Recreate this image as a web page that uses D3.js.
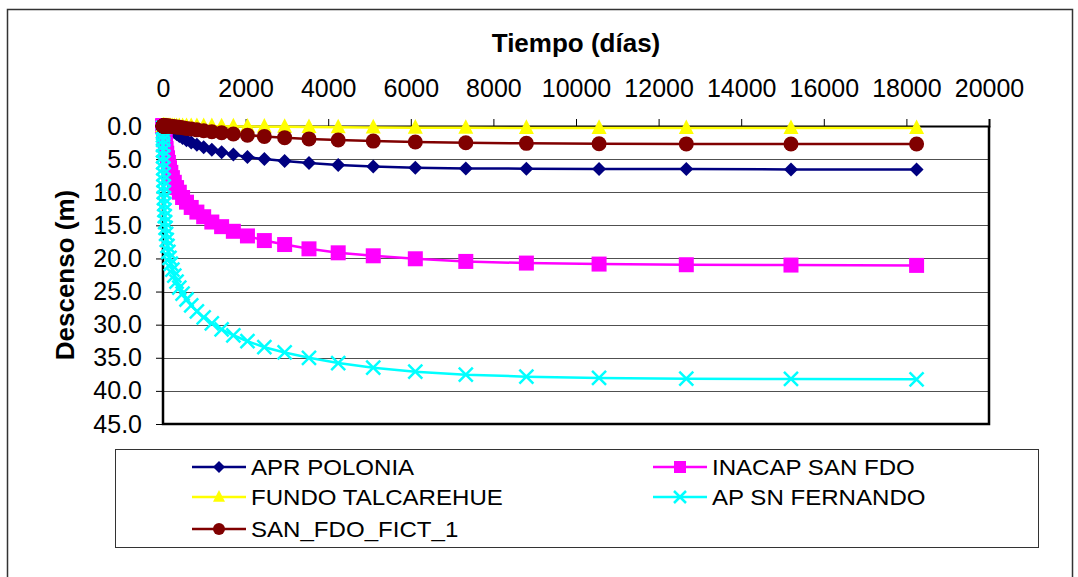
<!DOCTYPE html>
<html>
<head>
<meta charset="utf-8">
<script src="https://cdn.jsdelivr.net/npm/d3@7/dist/d3.min.js"></script>
<style>
  html, body { margin: 0; padding: 0; background: #fff; }
  svg text { font-family: "Liberation Sans", Arial, sans-serif; fill: #000; }
</style>
</head>
<body>
<svg id="chart" width="1078" height="577"></svg>
<script>
// ---- data ----
const days = [0.4, 0.9, 1.5, 2.2, 3.0, 4.0, 5.2, 6.6, 8.3, 10.4,
  12.9, 15.9, 19.5, 23.7, 28.9, 35.1, 42.5, 51.4, 62.1, 74.9,
  90.2, 108.7, 130.8, 157.4, 189.3, 227.6, 273.5, 328.6, 394.7, 474.0,
  569.2, 683.4, 820.5, 985.0, 1182.4, 1419.3, 1703.6, 2044.7, 2454.0, 2945.2,
  3534.7, 4242.0, 5090.9, 6109.4, 7331.6, 8798.5, 10558.6, 12670.7, 15205.2, 18246.8];

const seriesNames = ["APR POLONIA", "INACAP SAN FDO", "FUNDO TALCAREHUE", "AP SN FERNANDO", "SAN_FDO_FICT_1"];

const aprPolonia = [0, 0, 0, 0, 0, 0, 0, 0, 0, 0,
  0, 0, 0, 0, 0, 0, 0, 0.01, 0.02, 0.04,
  0.07, 0.13, 0.22, 0.35, 0.5, 0.7, 0.95, 1.2, 1.5, 1.8,
  2.15, 2.5, 2.85, 3.2, 3.6, 3.95, 4.3, 4.7, 5.0, 5.3,
  5.6, 5.9, 6.1, 6.3, 6.4, 6.45, 6.5, 6.5, 6.55, 6.55];

const inacapSanFdo = [0, 0, 0, 0, 0, 0, 0.01, 0.02, 0.04, 0.08,
  0.15, 0.25, 0.4, 0.6, 0.9, 1.2, 1.7, 2.2, 2.8, 3.4,
  4.1, 4.8, 5.5, 6.3, 7.0, 7.8, 8.5, 9.3, 10.0, 10.8,
  11.5, 12.3, 13.0, 13.7, 14.5, 15.2, 15.9, 16.6, 17.3, 17.9,
  18.55, 19.15, 19.6, 20.05, 20.45, 20.7, 20.85, 20.95, 21.0, 21.05];

const fundoTalcarehue = [0, 0, 0, 0, 0, 0, 0, 0, 0, 0,
  0, 0, 0, 0, 0, 0, 0, 0, 0, 0,
  0, 0, 0, 0, 0, 0, 0, 0, 0, 0,
  0, 0, 0.01, 0.02, 0.03, 0.04, 0.06, 0.08, 0.1, 0.13,
  0.16, 0.19, 0.22, 0.25, 0.27, 0.29, 0.3, 0.31, 0.32, 0.32];

const apSnFernando = [0.3, 0.8, 1.4, 2.1, 2.9, 3.7, 4.6, 5.5, 6.4, 7.3,
  8.2, 9.1, 10.0, 10.9, 11.8, 12.7, 13.6, 14.5, 15.4, 16.3,
  17.2, 18.1, 19.0, 19.9, 20.8, 21.7, 22.6, 23.5, 24.4, 25.3,
  26.2, 27.1, 28.0, 28.9, 29.8, 30.7, 31.6, 32.5, 33.4, 34.2,
  35.0, 35.8, 36.5, 37.1, 37.55, 37.85, 38.05, 38.15, 38.2, 38.25];

const sanFdoFict1 = [0, 0, 0, 0, 0, 0, 0, 0, 0, 0,
  0, 0, 0, 0, 0, 0, 0, 0, 0, 0,
  0, 0, 0.01, 0.02, 0.04, 0.06, 0.1, 0.14, 0.2, 0.27,
  0.36, 0.46, 0.58, 0.71, 0.86, 1.02, 1.2, 1.38, 1.57, 1.76,
  1.95, 2.12, 2.28, 2.42, 2.54, 2.62, 2.67, 2.7, 2.71, 2.72];

const xTicks = [0, 2000, 4000, 6000, 8000, 10000, 12000, 14000, 16000, 18000, 20000];
const yTicks = [0, 5, 10, 15, 20, 25, 30, 35, 40, 45];
const xTitle = "Tiempo (días)";
const yTitle = "Descenso (m)";

// ---- styles ----
const seriesValues = [aprPolonia, inacapSanFdo, fundoTalcarehue, apSnFernando, sanFdoFict1];
const colors = ["#000080", "#FF00FF", "#FFFF00", "#00FFFF", "#800000"];
const shapes = ["diamond", "square", "triangle", "x", "circle"];

const svg = d3.select("#chart");
const plot = { left: 163, right: 989, top: 126, bottom: 424 };

const x = d3.scaleLinear().domain([0, 20000]).range([plot.left, plot.right]);
const y = d3.scaleLinear().domain([0, 45]).range([plot.top, plot.bottom]);

// outer border
svg.append("rect").attr("x", 7.5).attr("y", 9.5).attr("width", 1065).attr("height", 620)
  .attr("fill", "#fff").attr("stroke", "#333").attr("stroke-width", 1.5);

// gridlines
svg.append("g").selectAll("line").data(yTicks.filter(v => v > 0 && v < 45)).join("line")
  .attr("x1", plot.left).attr("x2", plot.right)
  .attr("y1", d => Math.round(y(d)) + 0.5).attr("y2", d => Math.round(y(d)) + 0.5)
  .attr("stroke", "#505050").attr("stroke-width", 1);

// axes
const xAxis = d3.axisTop(x).tickValues(xTicks).tickFormat(d3.format("d")).tickSize(7).tickPadding(22);
const gx = svg.append("g").attr("transform", `translate(0,${plot.top})`).call(xAxis);
gx.select(".domain").attr("stroke", "#000").attr("stroke-width", 2);
gx.selectAll(".tick line").attr("stroke", "#000").attr("stroke-width", 1);
gx.selectAll(".tick text").attr("font-size", 25).attr("font-family", "Liberation Sans, Arial, sans-serif");

const yAxis = d3.axisLeft(y).tickValues(yTicks).tickFormat(d3.format(".1f")).tickSize(7).tickPadding(14);
const gy = svg.append("g").attr("transform", `translate(${plot.left},0)`).call(yAxis);
gy.select(".domain").remove();
gy.selectAll(".tick line").attr("stroke", "#000").attr("stroke-width", 1);
gy.selectAll(".tick text").attr("font-size", 25).attr("font-family", "Liberation Sans, Arial, sans-serif");

// plot frame (left, bottom, right)
svg.append("path")
  .attr("d", `M${plot.left},${plot.top} V${plot.bottom} H${plot.right} V${plot.top}`)
  .attr("fill", "none").attr("stroke", "#000").attr("stroke-width", 2.5);

// titles
svg.append("text").attr("x", (plot.left + plot.right) / 2).attr("y", 52)
  .attr("text-anchor", "middle").attr("font-size", 26).attr("font-weight", "bold").text(xTitle);
svg.append("text").attr("transform", `translate(74,${(plot.top + plot.bottom) / 2}) rotate(-90)`)
  .attr("text-anchor", "middle").attr("font-size", 26).attr("font-weight", "bold").text(yTitle);

function markerPath(shape, s) {
  const h = s / 2;
  switch (shape) {
    case "diamond": return `M0,${-h} L${h},0 L0,${h} L${-h},0 Z`;
    case "square": return `M${-h},${-h} H${h} V${h} H${-h} Z`;
    case "triangle": return `M0,${-h * 1.15} L${h},${h * 0.8} L${-h},${h * 0.8} Z`;
    case "x": return `M${-h},${-h} L${h},${h} M${-h},${h} L${h},${-h}`;
    case "circle": return d3.symbol(d3.symbolCircle, Math.PI * h * h)();
  }
}
function drawMarker(g, shape, color, s) {
  const p = g.append("path").attr("d", markerPath(shape, s));
  if (shape === "x") p.attr("fill", "none").attr("stroke", color).attr("stroke-width", 2.5);
  else p.attr("fill", color).attr("stroke", "none");
}

const line = d3.line().x(d => x(d[0])).y(d => y(d[1]));
const markerSize = { diamond: 14, square: 15, triangle: 15, x: 14, circle: 15 };

seriesValues.forEach((vals, i) => {
  const pts = days.map((t, k) => [t, vals[k]]);
  const g = svg.append("g");
  g.append("path").datum(pts).attr("d", line).attr("fill", "none")
    .attr("stroke", colors[i]).attr("stroke-width", 2.5);
  pts.forEach(p => {
    const m = g.append("g").attr("transform", `translate(${x(p[0])},${y(p[1])})`);
    drawMarker(m, shapes[i], colors[i], markerSize[shapes[i]]);
  });
});

// legend
svg.append("rect").attr("x", 115.5).attr("y", 449.5).attr("width", 923).attr("height", 98)
  .attr("fill", "#fff").attr("stroke", "#333").attr("stroke-width", 1);
const legendPos = [
  { x: 192, y: 467 }, { x: 653, y: 467 },
  { x: 192, y: 497 }, { x: 653, y: 497 },
  { x: 192, y: 529 }
];
seriesNames.forEach((name, i) => {
  const p = legendPos[i];
  const g = svg.append("g").attr("transform", `translate(${p.x},${p.y})`);
  g.append("line").attr("x1", 0).attr("x2", 54).attr("y1", 0).attr("y2", 0)
    .attr("stroke", colors[i]).attr("stroke-width", 2.5);
  const m = g.append("g").attr("transform", "translate(27,0)");
  drawMarker(m, shapes[i], colors[i], 12);
  g.append("text").attr("transform", "translate(59,0) scale(1.12,1)").attr("dy", "0.36em")
    .attr("font-size", 21.5).text(name);
});
</script>
</body>
</html>
